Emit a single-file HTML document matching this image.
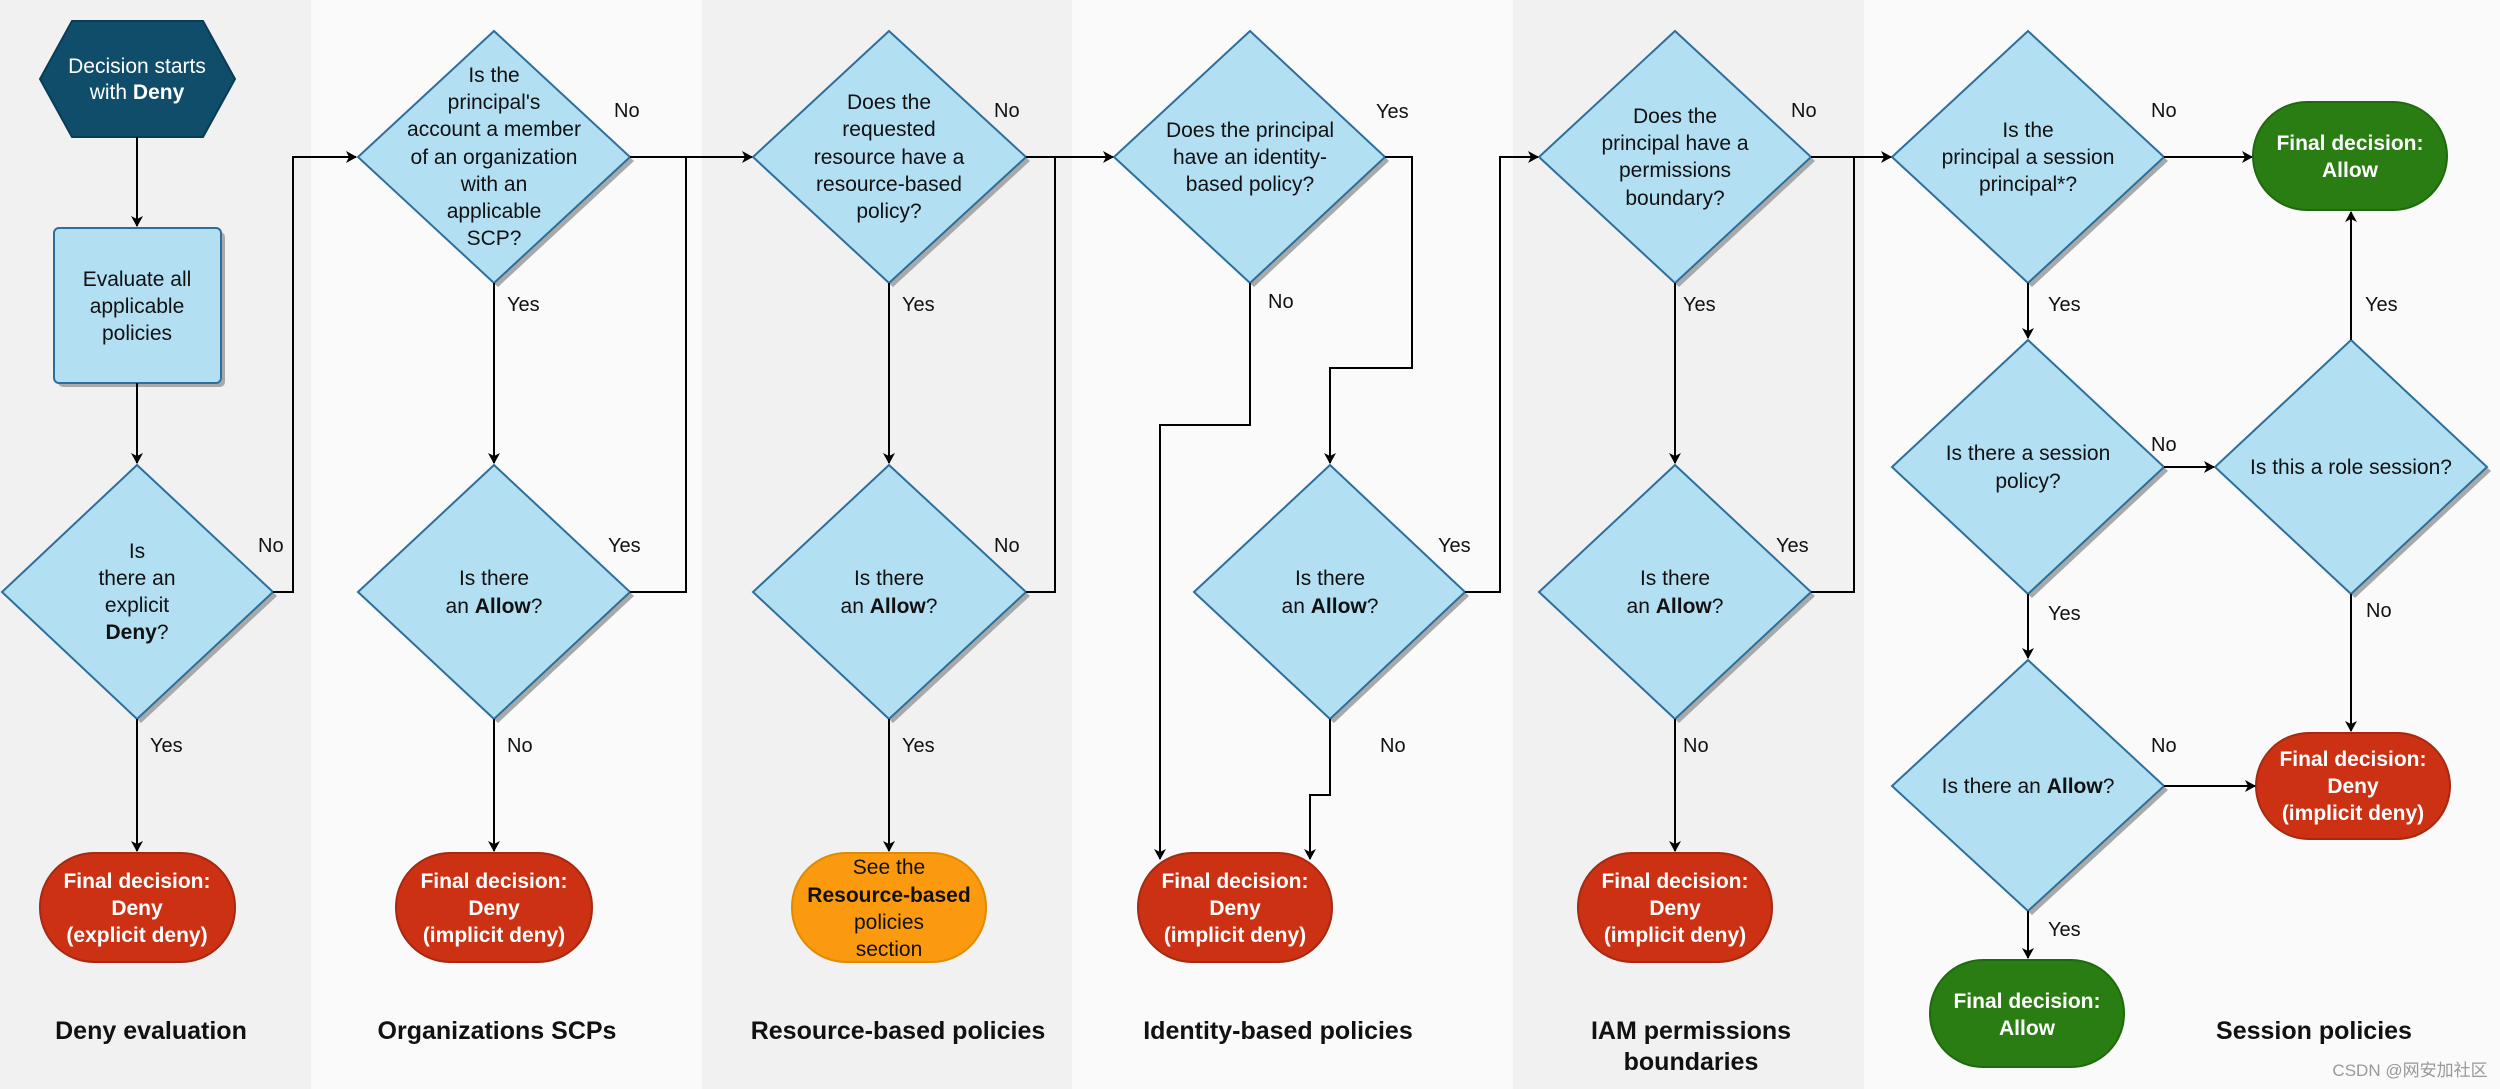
<!DOCTYPE html>
<html><head><meta charset="utf-8"><style>
html,body{margin:0;padding:0;background:#fafafa}
svg{display:block}
text{font-family:"Liberation Sans",Arial,sans-serif;font-size:21px;fill:#111;text-anchor:middle}
.t{fill:#fff;font-weight:bold;font-size:21px}
.h{font-weight:bold;font-size:25px}
.l{font-size:20px;text-anchor:start}
.b{font-weight:bold}
</style></head><body>
<svg width="2500" height="1089" viewBox="0 0 2500 1089" xmlns="http://www.w3.org/2000/svg">
<defs>
<marker id="a" markerWidth="12" markerHeight="12" refX="10" refY="6" orient="auto" markerUnits="userSpaceOnUse">
<path d="M0,0 L11,6 L0,12 L3,6 Z" fill="#000"/></marker>
</defs>
<rect x="0" y="0" width="2500" height="1089" fill="#fafafa"/>
<rect x="0" y="0" width="311" height="1089" fill="#f1f1f1"/>
<rect x="702" y="0" width="370" height="1089" fill="#f1f1f1"/>
<rect x="1513" y="0" width="351" height="1089" fill="#f1f1f1"/>

<!-- diamonds: shadow then shape -->
<g fill="#a9a9a9">
<polygon points="141,469 277,596 141,723 6,596"/>
<polygon points="498,35 634,161 498,287 362,161"/>
<polygon points="498,469 634,596 498,723 362,596"/>
<polygon points="893,35 1030,161 893,287 757,161"/>
<polygon points="893,469 1030,596 893,723 757,596"/>
<polygon points="1254,35 1389,161 1254,287 1118,161"/>
<polygon points="1334,469 1469,596 1334,723 1198,596"/>
<polygon points="1679,35 1815,161 1679,287 1543,161"/>
<polygon points="1679,469 1815,596 1679,723 1543,596"/>
<polygon points="2032,35 2168,161 2032,287 1896,161"/>
<polygon points="2032,344 2168,471 2032,598 1896,471"/>
<polygon points="2355,344 2491,471 2355,598 2219,471"/>
<polygon points="2032,664 2168,790 2032,915 1896,790"/>
</g>
<g fill="#b3dff2" stroke="#2c6f9c" stroke-width="2">
<polygon points="137,465 273,592 137,719 2,592"/>
<polygon points="494,31 630,157 494,283 358,157"/>
<polygon points="494,465 630,592 494,719 358,592"/>
<polygon points="889,31 1026,157 889,283 753,157"/>
<polygon points="889,465 1026,592 889,719 753,592"/>
<polygon points="1250,31 1385,157 1250,283 1114,157"/>
<polygon points="1330,465 1465,592 1330,719 1194,592"/>
<polygon points="1675,31 1811,157 1675,283 1539,157"/>
<polygon points="1675,465 1811,592 1675,719 1539,592"/>
<polygon points="2028,31 2164,157 2028,283 1892,157"/>
<polygon points="2028,340 2164,467 2028,594 1892,467"/>
<polygon points="2351,340 2487,467 2351,594 2215,467"/>
<polygon points="2028,660 2164,786 2028,911 1892,786"/>
</g>

<!-- hexagon -->
<polygon points="72,21 203,21 235,79 203,137 72,137 40,79" fill="#0f4d6b" stroke="#0a3c55" stroke-width="2"/>
<text class="t" x="137" y="73" style="font-weight:normal">Decision starts</text>
<text class="t" x="137" y="99"><tspan style="font-weight:normal">with </tspan>Deny</text>

<!-- rect -->
<rect x="58" y="232" width="167" height="155" rx="5" fill="#a9a9a9"/>
<rect x="54" y="228" width="167" height="155" rx="5" fill="#b3dff2" stroke="#2c6f9c" stroke-width="2"/>
<text x="137" y="286">Evaluate all</text>
<text x="137" y="313">applicable</text>
<text x="137" y="340">policies</text>

<!-- terminals -->
<g stroke-width="2">
<rect x="40" y="853" width="195" height="109" rx="54" fill="#cc3114" stroke="#a52a10"/>
<rect x="396" y="853" width="196" height="109" rx="54" fill="#cc3114" stroke="#a52a10"/>
<rect x="792" y="853" width="194" height="109" rx="54" fill="#fb9a0e" stroke="#e08a00"/>
<rect x="1138" y="853" width="194" height="109" rx="54" fill="#cc3114" stroke="#a52a10"/>
<rect x="1578" y="853" width="194" height="109" rx="54" fill="#cc3114" stroke="#a52a10"/>
<rect x="2253" y="102" width="194" height="108" rx="54" fill="#2a7d12" stroke="#1f6a0d"/>
<rect x="2256" y="733" width="194" height="106" rx="53" fill="#cc3114" stroke="#a52a10"/>
<rect x="1930" y="960" width="194" height="107" rx="53" fill="#2a7d12" stroke="#1f6a0d"/>
</g>
<text class="t" x="137" y="888">Final decision:</text><text class="t" x="137" y="915">Deny</text><text class="t" x="137" y="942">(explicit deny)</text>
<text class="t" x="494" y="888">Final decision:</text><text class="t" x="494" y="915">Deny</text><text class="t" x="494" y="942">(implicit deny)</text>
<text x="889" y="874">See the</text><text class="b" x="889" y="902">Resource-based</text><text x="889" y="929">policies</text><text x="889" y="956">section</text>
<text class="t" x="1235" y="888">Final decision:</text><text class="t" x="1235" y="915">Deny</text><text class="t" x="1235" y="942">(implicit deny)</text>
<text class="t" x="1675" y="888">Final decision:</text><text class="t" x="1675" y="915">Deny</text><text class="t" x="1675" y="942">(implicit deny)</text>
<text class="t" x="2350" y="150">Final decision:</text><text class="t" x="2350" y="177">Allow</text>
<text class="t" x="2353" y="766">Final decision:</text><text class="t" x="2353" y="793">Deny</text><text class="t" x="2353" y="820">(implicit deny)</text>
<text class="t" x="2027" y="1008">Final decision:</text><text class="t" x="2027" y="1035">Allow</text>

<!-- diamond texts -->
<text x="137" y="558">Is</text><text x="137" y="585">there an</text><text x="137" y="612">explicit</text><text x="137" y="639"><tspan class="b">Deny</tspan>?</text>
<text x="494" y="82">Is the</text><text x="494" y="109">principal's</text><text x="494" y="136">account a member</text><text x="494" y="164">of an organization</text><text x="494" y="191">with an</text><text x="494" y="218">applicable</text><text x="494" y="245">SCP?</text>
<text x="494" y="585">Is there</text><text x="494" y="613">an <tspan class="b">Allow</tspan>?</text>
<text x="889" y="109">Does the</text><text x="889" y="136">requested</text><text x="889" y="164">resource have a</text><text x="889" y="191">resource-based</text><text x="889" y="218">policy?</text>
<text x="889" y="585">Is there</text><text x="889" y="613">an <tspan class="b">Allow</tspan>?</text>
<text x="1250" y="137">Does the principal</text><text x="1250" y="164">have an identity-</text><text x="1250" y="191">based policy?</text>
<text x="1330" y="585">Is there</text><text x="1330" y="613">an <tspan class="b">Allow</tspan>?</text>
<text x="1675" y="123">Does the</text><text x="1675" y="150">principal have a</text><text x="1675" y="177">permissions</text><text x="1675" y="205">boundary?</text>
<text x="1675" y="585">Is there</text><text x="1675" y="613">an <tspan class="b">Allow</tspan>?</text>
<text x="2028" y="137">Is the</text><text x="2028" y="164">principal a session</text><text x="2028" y="191">principal*?</text>
<text x="2028" y="460">Is there a session</text><text x="2028" y="488">policy?</text>
<text x="2351" y="474">Is this a role session?</text>
<text x="2028" y="793">Is there an <tspan class="b">Allow</tspan>?</text>

<!-- connectors -->
<g stroke="#000" stroke-width="2" fill="none">
<path d="M137,137 V226" marker-end="url(#a)"/>
<path d="M137,383 V463" marker-end="url(#a)"/>
<path d="M137,719 V851" marker-end="url(#a)"/>
<path d="M273,592 H293 V157 H356" marker-end="url(#a)"/>
<path d="M494,283 V463" marker-end="url(#a)"/>
<path d="M494,719 V851" marker-end="url(#a)"/>
<path d="M630,592 H686 V157"/>
<path d="M630,157 H752" marker-end="url(#a)"/>
<path d="M889,283 V463" marker-end="url(#a)"/>
<path d="M889,719 V851" marker-end="url(#a)"/>
<path d="M1026,592 H1055 V157"/>
<path d="M1026,157 H1113" marker-end="url(#a)"/>
<path d="M1385,157 H1412 V368 H1330 V463" marker-end="url(#a)"/>
<path d="M1250,283 V425 H1160 V859" marker-end="url(#a)"/>
<path d="M1330,719 V795 H1310 V859" marker-end="url(#a)"/>
<path d="M1465,592 H1500 V157 H1538" marker-end="url(#a)"/>
<path d="M1675,283 V463" marker-end="url(#a)"/>
<path d="M1675,719 V851" marker-end="url(#a)"/>
<path d="M1811,592 H1854 V157"/>
<path d="M1811,157 H1891" marker-end="url(#a)"/>
<path d="M2164,157 H2252" marker-end="url(#a)"/>
<path d="M2028,283 V338" marker-end="url(#a)"/>
<path d="M2164,467 H2214" marker-end="url(#a)"/>
<path d="M2351,340 V212" marker-end="url(#a)"/>
<path d="M2351,594 V731" marker-end="url(#a)"/>
<path d="M2028,594 V658" marker-end="url(#a)"/>
<path d="M2164,786 H2255" marker-end="url(#a)"/>
<path d="M2028,911 V958" marker-end="url(#a)"/>
</g>

<!-- labels -->
<g>
<text class="l" x="258" y="552">No</text>
<text class="l" x="150" y="752">Yes</text>
<text class="l" x="614" y="117">No</text>
<text class="l" x="507" y="311">Yes</text>
<text class="l" x="608" y="552">Yes</text>
<text class="l" x="507" y="752">No</text>
<text class="l" x="994" y="117">No</text>
<text class="l" x="902" y="311">Yes</text>
<text class="l" x="994" y="552">No</text>
<text class="l" x="902" y="752">Yes</text>
<text class="l" x="1376" y="118">Yes</text>
<text class="l" x="1268" y="308">No</text>
<text class="l" x="1438" y="552">Yes</text>
<text class="l" x="1380" y="752">No</text>
<text class="l" x="1791" y="117">No</text>
<text class="l" x="1683" y="311">Yes</text>
<text class="l" x="1776" y="552">Yes</text>
<text class="l" x="1683" y="752">No</text>
<text class="l" x="2151" y="117">No</text>
<text class="l" x="2048" y="311">Yes</text>
<text class="l" x="2151" y="451">No</text>
<text class="l" x="2365" y="311">Yes</text>
<text class="l" x="2366" y="617">No</text>
<text class="l" x="2048" y="620">Yes</text>
<text class="l" x="2151" y="752">No</text>
<text class="l" x="2048" y="936">Yes</text>
</g>

<!-- column titles -->
<text class="h" x="151" y="1039">Deny evaluation</text>
<text class="h" x="497" y="1039">Organizations SCPs</text>
<text class="h" x="898" y="1039">Resource-based policies</text>
<text class="h" x="1278" y="1039">Identity-based policies</text>
<text class="h" x="1691" y="1039">IAM permissions</text>
<text class="h" x="1691" y="1070">boundaries</text>
<text class="h" x="2314" y="1039">Session policies</text>
<text x="2410" y="1076" style="font-family:'Liberation Sans','Noto Sans CJK SC',sans-serif;font-size:17px;fill:#999">CSDN @网安加社区</text>
</svg>
</body></html>
